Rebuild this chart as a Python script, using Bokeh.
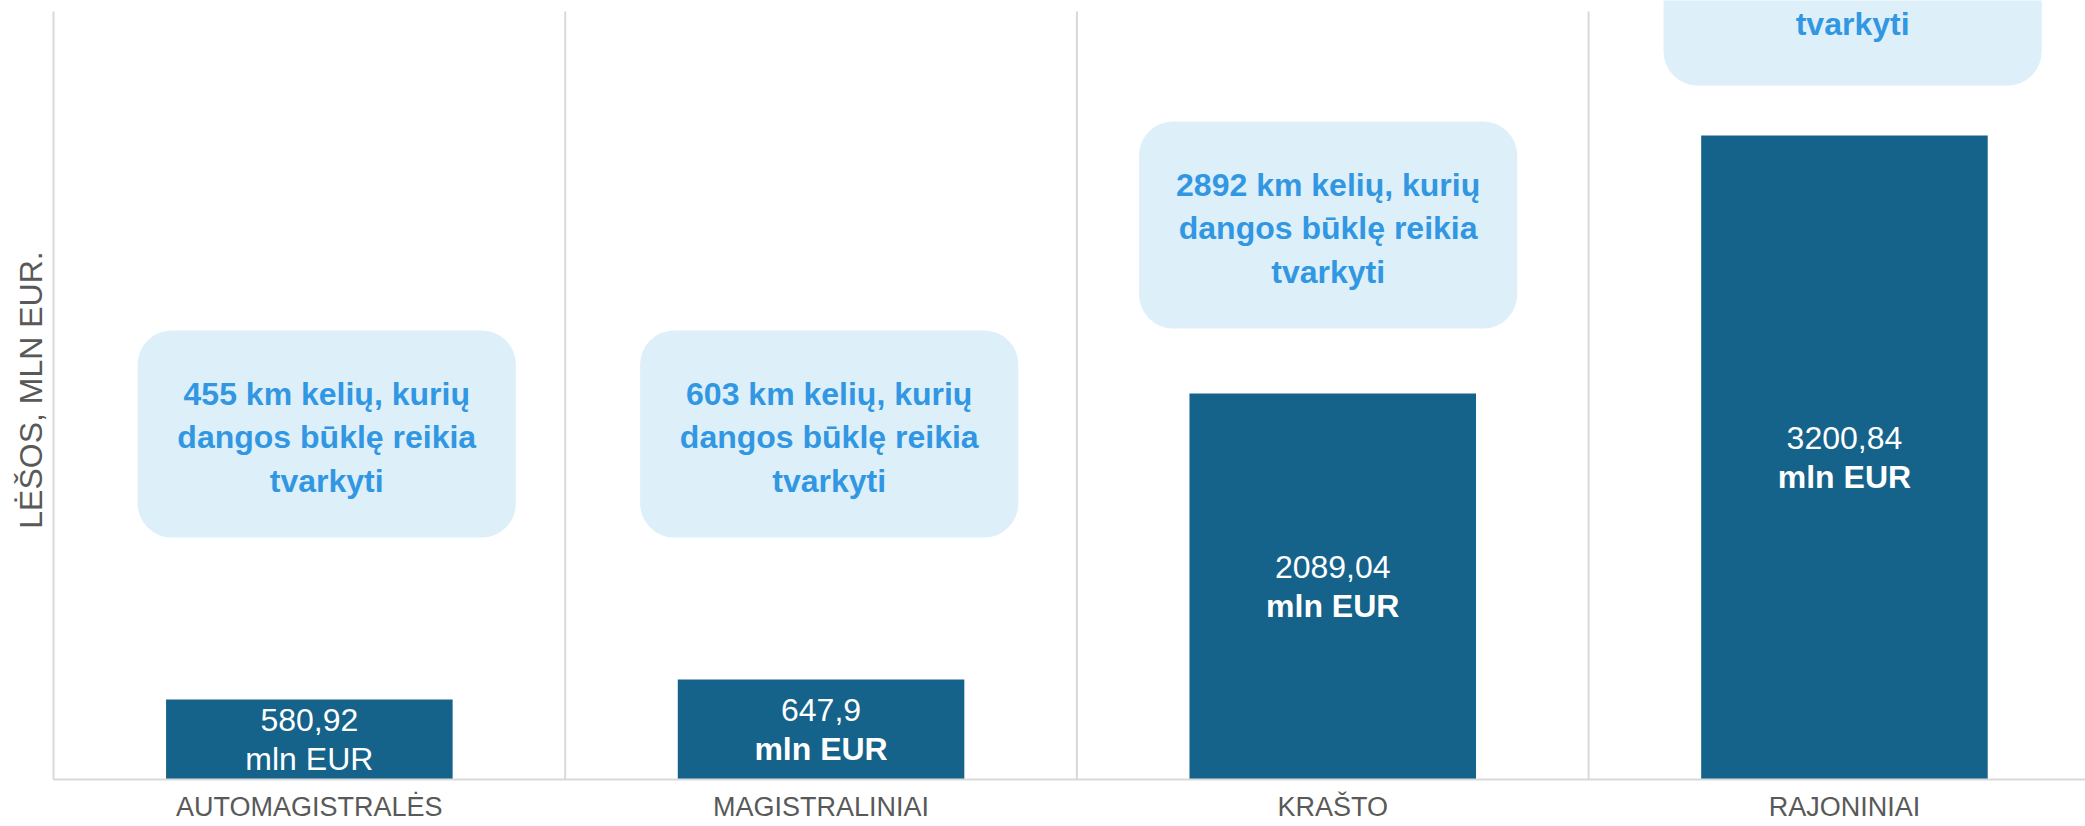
from bokeh.plotting import figure
from bokeh.models import ColumnDataSource, Range1d, FixedTicker, BoxAnnotation
from bokeh.core.properties import value
from bokeh.embed import file_html
from bokeh.resources import INLINE

# ---- data ----
categories = ["AUTOMAGISTRALĖS", "MAGISTRALINIAI", "KRAŠTO", "RAJONINIAI"]
funds_mln_eur = [580.92, 647.9, 2089.04, 3200.84]
# drawn bar heights (the value axis has no scale)
bar_heights = [80, 100, 386, 644]
km_to_fix = [455, 603, 2892, None]   # last number is cut off in the picture
unit_bold = [False, True, True, True]

# ---- styles / layout ----
BAR_COLOR = "#15628a"
BOX_FILL = "#ddeff8"
BOX_TEXT = "#3197e2"
GRAY = "#595959"
LINE_GRAY = "#d9d9d9"
FONT = "Liberation Sans"
FS = "32px"
LINE_STEP = 38.4
PLOT_TOP = 768          # top of drawn area (separators / axis line)
box_w = 0.739
box_h = 207
box_bottom = [242, 242, 451, 694]
box_dx = [0.034, 0.016, -0.009, 0.016]

n = len(categories)
xs = [i + 0.5 for i in range(n)]

p = figure(width=2085, height=826, output_backend="svg", toolbar_location=None,
           x_range=Range1d(0, 2032 / 511.7), y_range=Range1d(0, 779),
           min_border_left=53, min_border_right=0, min_border_top=0, min_border_bottom=47)
p.outline_line_color = None
p.background_fill_color = "white"
p.border_fill_color = "white"
p.grid.visible = False

# category separators
seps = list(range(1, n))
p.segment(x0=seps, x1=seps, y0=[0] * len(seps), y1=[PLOT_TOP] * len(seps),
          line_color=LINE_GRAY, line_width=2, level="underlay")

# callout boxes
box_text_x, box_text_y, box_texts = [], [], []
for i in range(n):
    cx = xs[i] + box_dx[i]
    b = box_bottom[i]
    p.add_layout(BoxAnnotation(left=cx - box_w / 2, right=cx + box_w / 2,
                               bottom=b, top=b + box_h,
                               fill_color=BOX_FILL, fill_alpha=1.0, line_color=None,
                               border_radius=34, level="underlay"))
    center = b + box_h / 2 - 3.5
    if km_to_fix[i] is not None:
        box_texts.append(f"{km_to_fix[i]} km kelių, kurių\ndangos būklę reikia\ntvarkyti")
        box_text_y.append(center)
    else:
        box_texts.append("tvarkyti")
        box_text_y.append(center - LINE_STEP)
    box_text_x.append(cx)

p.text(x=box_text_x, y=box_text_y, text=box_texts, text_align="center",
       text_baseline="middle", text_font=value(FONT), text_font_size=FS,
       text_font_style="bold", text_color=BOX_TEXT, text_line_height=1.2)

# bars
src = ColumnDataSource(dict(x=xs, top=bar_heights,
                            val=[str(v).replace(".", ",") for v in funds_mln_eur],
                            unit=["mln EUR"] * n,
                            unit_style=["bold" if b else "normal" for b in unit_bold],
                            y_val=[h / 2 + LINE_STEP / 2 for h in bar_heights],
                            y_unit=[h / 2 - LINE_STEP / 2 for h in bar_heights]))
p.vbar(x="x", top="top", width=0.56, bottom=0, source=src,
       fill_color=BAR_COLOR, line_color=None)
p.text(x="x", y="y_val", text="val", source=src, text_align="center",
       text_baseline="middle", text_font=value(FONT), text_font_size=FS,
       text_color="white")
p.text(x="x", y="y_unit", text="unit", source=src, text_align="center",
       text_baseline="middle", text_font=value(FONT), text_font_size=FS,
       text_font_style="unit_style", text_color="white")

# axes
p.xaxis.ticker = FixedTicker(ticks=xs)
p.xaxis.major_label_overrides = {x: c for x, c in zip(xs, categories)}
p.xaxis.major_tick_out = 0
p.xaxis.major_tick_in = 0
p.xaxis.minor_tick_out = 0
p.xaxis.minor_tick_in = 0
p.xaxis.major_label_standoff = 12
p.xaxis.major_label_text_font = FONT
p.xaxis.major_label_text_font_size = "27px"
p.xaxis.major_label_text_color = GRAY
p.xaxis.axis_line_color = LINE_GRAY
p.xaxis.axis_line_width = 2

p.yaxis.ticker = FixedTicker(ticks=[])
p.yaxis.bounds = (0, PLOT_TOP)
p.yaxis.major_tick_out = 0
p.yaxis.major_tick_in = 0
p.yaxis.minor_tick_out = 0
p.yaxis.minor_tick_in = 0
p.yaxis.axis_label = "LĖŠOS, MLN EUR."
p.yaxis.axis_label_text_font = FONT
p.yaxis.axis_label_text_font_size = "32px"
p.yaxis.axis_label_text_font_style = "normal"
p.yaxis.axis_label_text_color = GRAY
p.yaxis.axis_label_standoff = 5
p.yaxis.axis_line_color = LINE_GRAY
p.yaxis.axis_line_width = 2

open("out.html", "w").write(file_html(p, INLINE))
